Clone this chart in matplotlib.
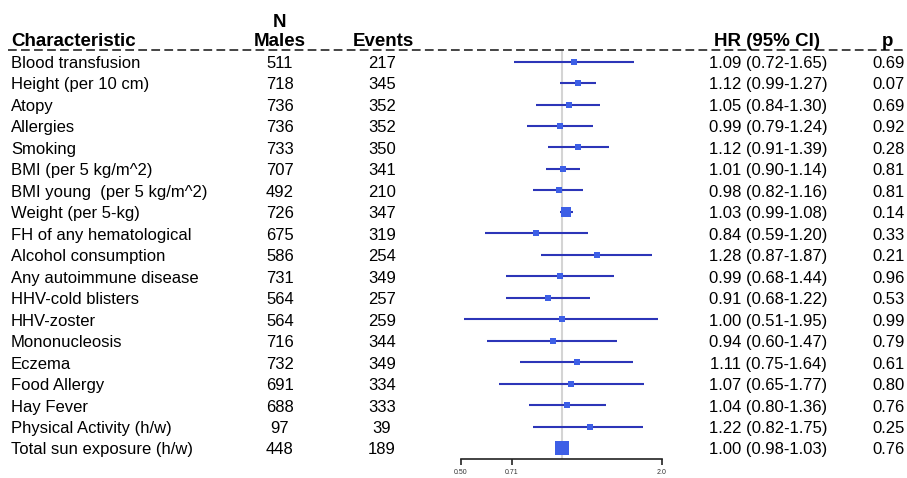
import numpy as np
import matplotlib
matplotlib.use("Agg")
import matplotlib.pyplot as plt
from matplotlib.transforms import blended_transform_factory
from matplotlib.lines import Line2D

characteristics = [
    "Blood transfusion", "Height (per 10 cm)", "Atopy", "Allergies", "Smoking",
    "BMI (per 5 kg/m^2)", "BMI young  (per 5 kg/m^2)", "Weight (per 5-kg)",
    "FH of any hematological", "Alcohol consumption", "Any autoimmune disease",
    "HHV-cold blisters", "HHV-zoster", "Mononucleosis", "Eczema", "Food Allergy",
    "Hay Fever", "Physical Activity (h/w)", "Total sun exposure (h/w)",
]
n_males = [511, 718, 736, 736, 733, 707, 492, 726, 675, 586, 731, 564, 564, 716, 732, 691, 688, 97, 448]
events = [217, 345, 352, 352, 350, 341, 210, 347, 319, 254, 349, 257, 259, 344, 349, 334, 333, 39, 189]
hr = [1.09, 1.12, 1.05, 0.99, 1.12, 1.01, 0.98, 1.03, 0.84, 1.28, 0.99, 0.91, 1.00, 0.94, 1.11, 1.07, 1.04, 1.22, 1.00]
lower = [0.72, 0.99, 0.84, 0.79, 0.91, 0.90, 0.82, 0.99, 0.59, 0.87, 0.68, 0.68, 0.51, 0.60, 0.75, 0.65, 0.80, 0.82, 0.98]
upper = [1.65, 1.27, 1.30, 1.24, 1.39, 1.14, 1.16, 1.08, 1.20, 1.87, 1.44, 1.22, 1.95, 1.47, 1.64, 1.77, 1.36, 1.75, 1.03]
pvals = ["0.69", "0.07", "0.69", "0.92", "0.28", "0.81", "0.81", "0.14", "0.33", "0.21",
         "0.96", "0.53", "0.99", "0.79", "0.61", "0.80", "0.76", "0.25", "0.76"]
tick_vals = [0.50, 0.71, 2.0]
tick_labels = ["0.50", "0.71", "2.0"]

W, H, DPI = 9.07, 4.78, 100
fig = plt.figure(figsize=(W, H), dpi=DPI)
plt.rcParams['font.family'] = ['Liberation Sans', 'DejaVu Sans']

px_w, px_h = W * DPI, H * DPI
ax_left, ax_right = 461, 662
ax_top, ax_bot = 50.8, 459
n = len(characteristics)
ax = fig.add_axes([ax_left / px_w, 1 - ax_bot / px_h, (ax_right - ax_left) / px_w, (ax_bot - ax_top) / px_h])
ax.set_xscale('log')
ax.set_xlim(0.5, 2.0)
ax.set_ylim(n - 0.5, -0.5)
ax.patch.set_alpha(0)
for s in ['top', 'right', 'left']:
    ax.spines[s].set_visible(False)
ax.spines['bottom'].set_linewidth(1.2)
ax.spines['bottom'].set_color('#222222')
ax.set_yticks([])
ax.xaxis.set_minor_locator(matplotlib.ticker.NullLocator())
ax.set_xticks(tick_vals)
ax.set_xticklabels(tick_labels, fontsize=5, color='#333333')
ax.tick_params(axis='x', length=4, width=1.2, color='#222222', pad=3)

ax.axvline(1.0, color='#d4d4d4', lw=1.5, zorder=0)

ys = np.arange(n)
ax.hlines(ys, lower, upper, color='#2c35b8', lw=1.5, zorder=2)
widths = np.log(np.array(upper) / np.array(lower))
size_px = np.maximum(14.0 * np.sqrt(widths.min() / widths), 5.5)
for y, h, s in zip(ys, hr, size_px):
    ax.plot([h], [y], marker='s', markersize=s * 72 / DPI, color='#3d5fe6',
            markeredgewidth=0, zorder=3, clip_on=False)

trans = blended_transform_factory(fig.transFigure, ax.transData)
fs = 12
hfs = 13.5
off = 0.29
def fx(px):
    return px / px_w

for i in range(n):
    yb = i + off
    ax.text(fx(11), yb, characteristics[i], transform=trans, ha='left', va='baseline', fontsize=fs, clip_on=False)
    ax.text(fx(280), yb, str(n_males[i]), transform=trans, ha='center', va='baseline', fontsize=fs, clip_on=False)
    ax.text(fx(382), yb, str(events[i]), transform=trans, ha='center', va='baseline', fontsize=fs, clip_on=False)
    ax.text(fx(768), yb, f"{hr[i]:.2f} ({lower[i]:.2f}-{upper[i]:.2f})", transform=trans, ha='center', va='baseline', fontsize=fs, clip_on=False)
    ax.text(fx(888.5), yb, pvals[i], transform=trans, ha='center', va='baseline', fontsize=fs, clip_on=False)

def fy(py):
    return 1 - py / px_h
hb = 45.5
fig.text(fx(11), fy(hb), "Characteristic", ha='left', va='baseline', fontsize=hfs, fontweight='bold')
fig.text(fx(280), fy(27), "N", ha='center', va='baseline', fontsize=hfs, fontweight='bold')
fig.text(fx(280), fy(hb), "Males", ha='center', va='baseline', fontsize=hfs, fontweight='bold')
fig.text(fx(383), fy(hb), "Events", ha='center', va='baseline', fontsize=hfs, fontweight='bold')
fig.text(fx(767), fy(hb), "HR (95% CI)", ha='center', va='baseline', fontsize=hfs, fontweight='bold')
fig.text(fx(888), fy(hb), "p", ha='center', va='baseline', fontsize=hfs, fontweight='bold')

fig.add_artist(Line2D([fx(8), fx(905)], [fy(50), fy(50)], transform=fig.transFigure,
                      color='#444444', lw=1.4, linestyle=(0, (4.5, 2.2))))

fig.savefig("out.png", dpi=DPI)
